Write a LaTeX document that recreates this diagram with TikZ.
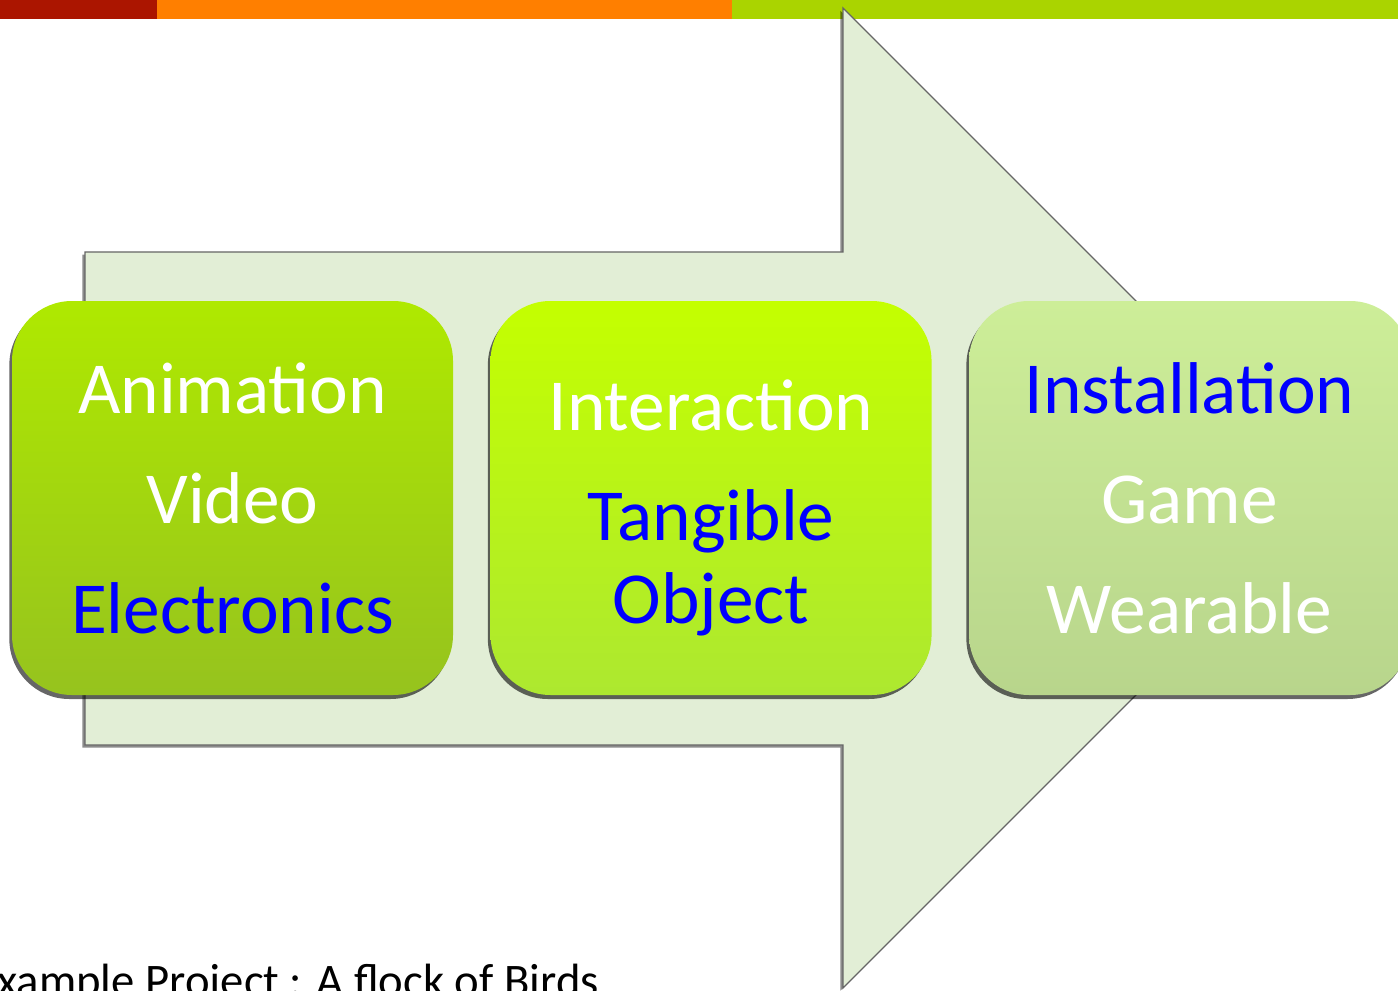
\documentclass[tikz,border=0pt]{standalone}
\usepackage{fontspec}
\setmainfont{Carlito}
\usetikzlibrary{positioning,shadows}
\definecolor{barred}{HTML}{AB1500}
\definecolor{barorange}{HTML}{FF7F00}
\definecolor{bargreen}{HTML}{AAD400}
\definecolor{arrowfill}{HTML}{E2EED6}
\definecolor{aTop}{HTML}{AFE900}
\definecolor{aBot}{HTML}{96C31E}
\definecolor{iTop}{HTML}{C4FF00}
\definecolor{iBot}{HTML}{ADE830}
\definecolor{gTop}{HTML}{CDEE98}
\definecolor{gBot}{HTML}{B8D58C}

\begin{document}
\begin{tikzpicture}[x=0.75pt,y=-0.75pt,node distance=27.75pt,
  box text/.style={align=center,text=white,font=\fontsize{55}{82.5}\selectfont},
  box node/.style={box text,rounded corners=45pt,minimum width=330.75pt,minimum height=295.5pt,
    inner sep=0pt,drop shadow={shadow xshift=-2pt,shadow yshift=-3pt,opacity=.6,fill=black}}]
  \useasboundingbox (0,0) rectangle (1398,991);
  \clip (0,0) rectangle (1398,991);

  % top bar
  \fill[barred] (0,0) rectangle (157,19);
  \fill[barorange] (157,0) rectangle (732,19);
  \fill[bargreen] (732,0) rectangle (1398,19);

  % big arrow
  \filldraw[fill=arrowfill,draw=black!60,line width=1pt,line join=miter,
    drop shadow={shadow xshift=-2pt,shadow yshift=-2pt,opacity=.45,fill=black}]
    (85,252) -- (843,252) -- (843,8) -- (1333,498) -- (843,988) -- (843,745) -- (85,745) -- cycle;

  \node[box node,top color=aTop,bottom color=aBot] (anim) at (232.5,498)
    {Animation\\Video\\\textcolor{blue}{Electronics}};
  \node[box node,top color=iTop,bottom color=iBot,right=of anim] (inter) {};
  \node[box text] (intertext) at ([yshift=-7.5pt]inter.center)
    {Interaction\\\textcolor{blue}{Tangible}\\[-20pt]\textcolor{blue}{Object}};
  \node[box node,top color=gTop,bottom color=gBot,right=of inter] (inst)
    {\textcolor{blue}{Installation}\\Game\\Wearable};

  \node[anchor=base west,font=\fontsize{35}{42}\selectfont] (proj) at (-30,996)
    {Example Project : A flock of Birds};
\end{tikzpicture}
\end{document}
